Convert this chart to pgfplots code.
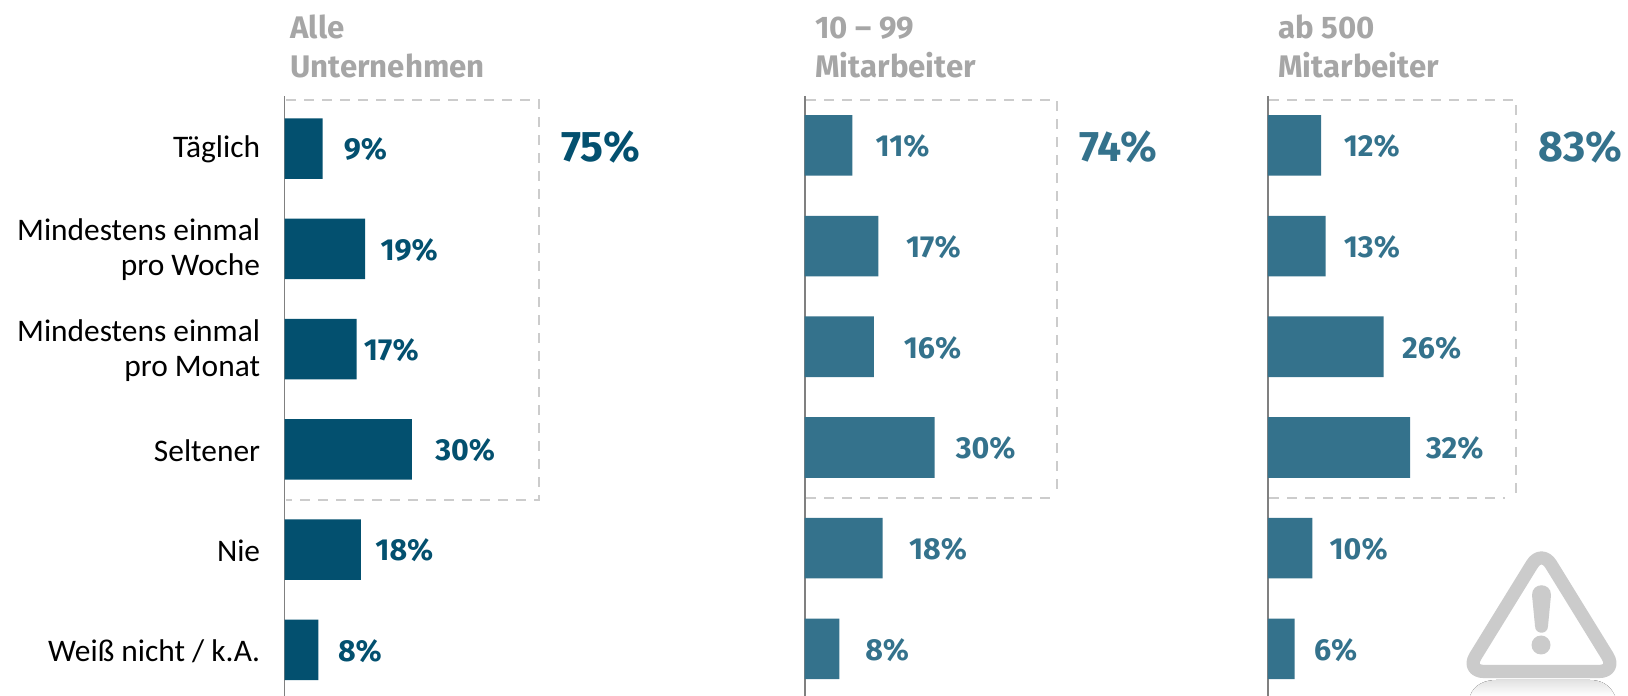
\documentclass[border=0pt]{standalone}
\usepackage{pgfplots}
\pgfplotsset{compat=1.18}
\usepackage{pgfplotstable}
\usepackage{fontspec}
\setmainfont{Carlito}
\newfontfamily\strongfont{Fira Sans}[BoldFont={Fira Sans Bold}]
\definecolor{darkbar}{HTML}{03506F}
\definecolor{lightbar}{HTML}{34728C}
\definecolor{headgray}{HTML}{A6A6A6}
\definecolor{axisgray}{HTML}{808080}
\definecolor{boxgray}{HTML}{CCCCCC}
\definecolor{signgray}{HTML}{CBCBCB}

% y = row, v = share in percent, lx = left edge of the value label
\pgfplotstableread{
y v lx
0 9 13.9
1 19 22.5
2 17 18.6
3 30 35.4
4 18 21.3
5 8 12.5
}\tableall
\pgfplotstableread{
y v lx
0 11 16.3
1 17 23.3
2 16 22.8
3 30 34.8
4 18 24.0
5 8 13.9
}\tablemid
\pgfplotstableread{
y v lx
0 12 17.0
1 13 17.0
2 26 30.1
3 32 35.5
4 10 13.8
5 6 10.3
}\tablelarge

\pgfplotsset{
  panel/.style={
    scale only axis, clip=false, height=300pt,
    y dir=reverse, xmin=0,
    axis x line=none, axis y line*=left,
    axis line style={axisgray, line width=0.95pt, -},
    ytick={0,...,5}, major tick length=0pt,
    point meta=explicit symbolic,
    anchor=south west,
  },
  bars/.style={xbar, bar width=30.3pt, bar shift=0pt, draw=none, fill=#1},
  vals/.style={draw=none, mark=none,
    nodes near coords={\pgfplotspointmeta\%},
    nodes near coords style={anchor=west, inner sep=0pt, text=#1,
      yshift=-0.5pt, font=\strongfont\fontsize{15.2}{15.5}\selectfont\bfseries}},
}
\newcommand{\headfont}{\strongfont\fontsize{15.6}{16}\selectfont\bfseries}
\newcommand{\sumfont}{\strongfont\fontsize{21.4}{22}\selectfont\bfseries}

\begin{document}
\begin{tikzpicture}
\useasboundingbox (0,0) rectangle (814pt,348pt);

\begin{axis}[panel, at={(142.25pt,0pt)}, width=63.75pt, xmax=30,
    ymin=-0.525, ymax=5.46,
    yticklabels={Täglich,Mindestens einmal\\pro Woche,Mindestens einmal\\pro Monat,Seltener,Nie,Weiß nicht / k.A.},
    yticklabel style={align=right, inner sep=0pt, xshift=-12pt, yshift=-0.5pt,
      font=\fontsize{15.7}{17.5}\selectfont}]
  \addplot[bars=darkbar] table[x=v, y=y, meta=v] {\tableall};
  \addplot[vals=darkbar] table[x=lx, y=y, meta=v] {\tableall};
\end{axis}

\begin{axis}[panel, at={(402.35pt,0pt)}, width=64.95pt, xmax=30,
    ymin=-0.49, ymax=5.468, yticklabels={}]
  \addplot[bars=lightbar] table[x=v, y=y, meta=v] {\tablemid};
  \addplot[vals=lightbar] table[x=lx, y=y, meta=v] {\tablemid};
\end{axis}

\begin{axis}[panel, at={(633.9pt,0pt)}, width=71.2pt, xmax=32,
    ymin=-0.49, ymax=5.468, yticklabels={}]
  \addplot[bars=lightbar] table[x=v, y=y, meta=v] {\tablelarge};
  \addplot[vals=lightbar] table[x=lx, y=y, meta=v] {\tablelarge};
\end{axis}

\begin{scope}[x=0.5pt, y=-0.5pt, shift={(0pt,348pt)}]
  % brackets round the four frequency rows
  \begin{scope}[boxgray, line width=1pt, dash pattern=on 5pt off 4pt]
    \draw (286,100.5) -- (539,100.5) -- (539,500) -- (286,500);
    \draw (806,100.5) -- (1057,100.5) -- (1057,495);
    \draw (806,498) -- (1050,498);
    \draw (1269,100.5) -- (1516,100.5) -- (1516,493);
    \draw (1269,498) -- (1505,498);
  \end{scope}

  % column headings
  \node[anchor=base west, inner sep=0pt, text=headgray, font=\headfont] at (290,38.5) {Alle};
  \node[anchor=base west, inner sep=0pt, text=headgray, font=\headfont] at (290,77.5) {Unternehmen};
  \node[anchor=base west, inner sep=0pt, text=headgray, font=\headfont] at (815,38.5) {10 – 99};
  \node[anchor=base west, inner sep=0pt, text=headgray, font=\headfont] at (815,77.5) {Mitarbeiter};
  \node[anchor=base west, inner sep=0pt, text=headgray, font=\headfont] at (1278,38.5) {ab 500};
  \node[anchor=base west, inner sep=0pt, text=headgray, font=\headfont] at (1278,77.5) {Mitarbeiter};

  % totals beside the brackets
  \node[anchor=base west, inner sep=0pt, text=darkbar, font=\sumfont] at (561,162) {75\%};
  \node[anchor=base west, inner sep=0pt, text=lightbar, font=\sumfont] at (1079,162) {74\%};
  \node[anchor=base west, inner sep=0pt, text=lightbar, font=\sumfont] at (1538,162) {83\%};

  % warning sign with its faint reflection
  \fill[top color=signgray!55, bottom color=white, draw=none]
    (1470,696) .. controls (1474,684) and (1486,680) .. (1496,680)
    -- (1590,680) .. controls (1600,680) and (1610,684) .. (1615,696) -- cycle;
  \draw[signgray, line width=6.6pt, line join=round, rounded corners=9pt]
    (1541.5,549) -- (1617,671.5) -- (1466,671.5) -- cycle;
  \fill[signgray] (1532,595) .. controls (1532,582) and (1551,582) .. (1551,595)
    -- (1548,626) .. controls (1548,635) and (1535,635) .. (1535,626) -- cycle;
  \fill[signgray] (1541,645) circle[radius=9.5];
\end{scope}
\end{tikzpicture}
\end{document}
